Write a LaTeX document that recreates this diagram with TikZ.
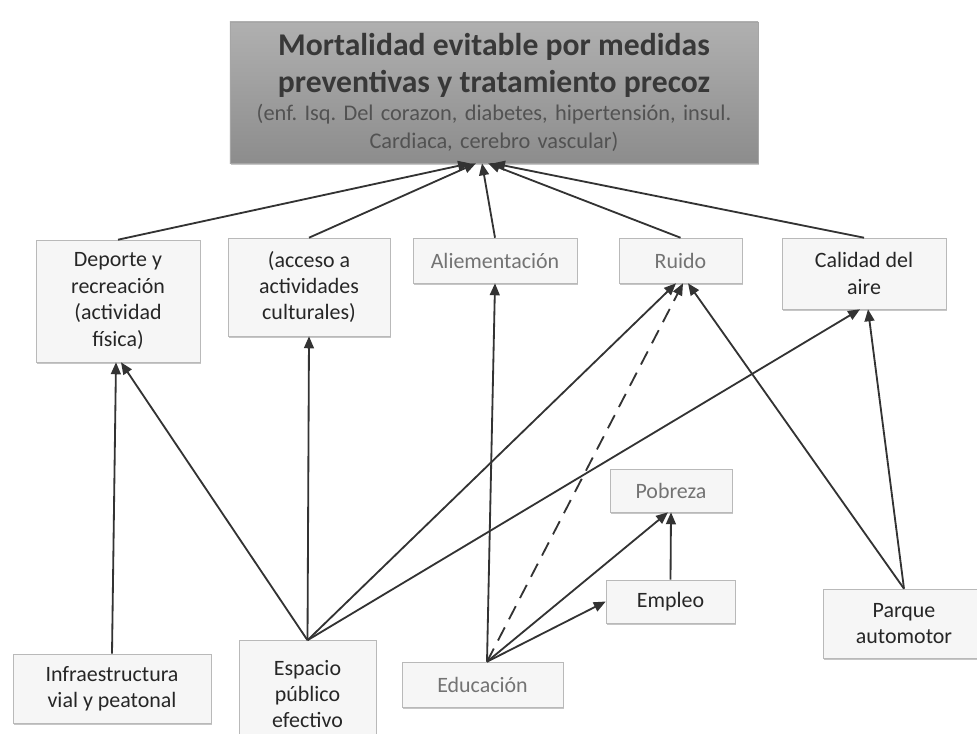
\documentclass[tikz,border=0pt]{standalone}
\usepackage{fontspec}
\setmainfont{Carlito}
\usetikzlibrary{arrows.meta,shadows}
\definecolor{linea}{HTML}{333333}
\tikzset{
  caja/.style={draw=gray!55, fill=gray!7, align=center, inner sep=2pt,
    drop shadow={shadow xshift=0.6pt, shadow yshift=-1.6pt, opacity=0.45},
    text=black!85, font=\fontsize{15.6}{18.8}\selectfont},
  cajaclara/.style={caja, text=black!55},
  flecha/.style={draw=linea, line width=1.3pt, -{Triangle[length=8.5pt,width=7pt]}}
}
\begin{document}
\frenchspacing
\begin{tikzpicture}[x=0.025cm, y=-0.025cm]
    \useasboundingbox (0, 0) rectangle (977, 733);
    \clip (0, 0) rectangle (977, 733);
    % caja principal
    \node[caja, draw=gray!70, top color=black!31, bottom color=black!45, text width=12.9cm,
        minimum width=13.2cm, minimum height=3.525cm, text=black!78] (mort) at (494, 92.5)
        {{\fontsize{22.5}{26}\selectfont\bfseries Mortalidad evitable por medidas\par}
        {\fontsize{22.5}{26}\selectfont\bfseries preventivas y tratamiento precoz\par}
        {\fontsize{15.9}{20}\selectfont\color{black!68}(enf. Isq. Del corazon, diabetes, hipertensión, insul.\par}
        {\fontsize{15.9}{20}\selectfont\color{black!68}Cardiaca, cerebro vascular)\par}};

    \node[caja, minimum width=4.1cm, minimum height=3.05cm] (deporte) at (118, 301)
        {Deporte y\\ recreación\\ (actividad\\ física)};
    \node[caja, minimum width=4.05cm, minimum height=2.45cm] (cultura) at (309, 287)
        {(acceso a\\ actividades\\ culturales)};
    \node[cajaclara, minimum width=4.1cm, minimum height=1.125cm] (alim) at (495, 260.5) {Aliementación};
    \node[cajaclara, minimum width=3.075cm, minimum height=1.125cm] (ruido) at (680.5, 260.5) {Ruido};
    \node[caja, minimum width=4.1cm, minimum height=1.775cm] (aire) at (864, 273.5) {Calidad del\\ aire};

    \node[cajaclara, minimum width=3.05cm, minimum height=1.075cm] (pobreza) at (671, 490.5) {Pobreza};
    \node[caja, minimum width=3.225cm, minimum height=1.075cm] (empleo) at (670.5, 601.5) {Empleo};
    \node[caja, minimum width=4.05cm, minimum height=1.725cm] (parque) at (904, 623.5) {Parque\\ automotor};

    \node[caja, minimum width=4.95cm, minimum height=1.725cm] (infra) at (112, 688.5)
        {Infraestructura\\ vial y peatonal};
    \node[caja, minimum width=3.425cm, minimum height=2.675cm] (espacio) at (307.5, 694)
        {Espacio\\ público\\ efectivo};
    \node[cajaclara, minimum width=4.025cm, minimum height=1.125cm] (educ) at (482.5, 684.5) {Educación};

    % hacia la caja principal
    \draw[flecha] (deporte.north) -- (mort.south -| 470,0);
    \draw[flecha] (cultura.north) -- (mort.south -| 476,0);
    \draw[flecha] (alim.north) -- (mort.south -| 482,0);
    \draw[flecha] (ruido.north) -- (mort.south -| 488,0);
    \draw[flecha] (aire.north) -- (mort.south -| 493,0);

    \draw[flecha] (infra.north) -- (deporte.south -| 116,0);
    \draw[flecha] (espacio.north) -- (deporte.south -| 121,0);
    \draw[flecha] (espacio.north) -- (cultura.south);
    \draw[flecha] (espacio.north) -- (ruido.south -| 676,0);
    \draw[flecha] (espacio.north) -- (aire.south -| 860,0);

    \draw[flecha] (educ.north -| 487,0) -- (alim.south);
    \draw[flecha, dashed, dash pattern=on 10.5pt off 6.5pt] (educ.north -| 487,0) -- (ruido.south -| 683,0);
    \draw[flecha] (educ.north -| 487,0) -- (pobreza.south -| 668,0);
    \draw[flecha] (educ.north -| 487,0) -- (empleo.west);
    \draw[flecha] (empleo.north) -- (pobreza.south);

    \draw[flecha] (parque.north) -- (ruido.south -| 688,0);
    \draw[flecha] (parque.north) -- (aire.south -| 868,0);
\end{tikzpicture}
\end{document}
